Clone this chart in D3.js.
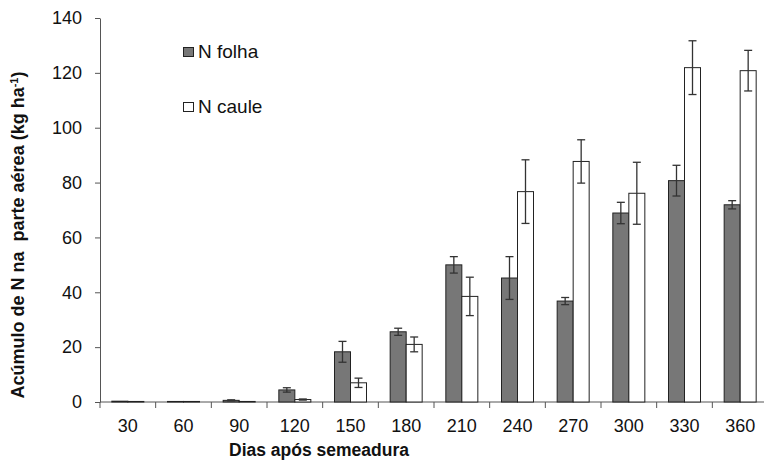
<!DOCTYPE html>
<html>
<head>
<meta charset="utf-8">
<script src="https://cdn.jsdelivr.net/npm/d3@7"></script>
<style>
  body { margin: 0; background: #fff; }
  text { font-family: "Liberation Sans", Arial, sans-serif; }
</style>
</head>
<body>
<script>
'use strict';

// days after sowing
const days = ["30", "60", "90", "120", "150", "180", "210", "240", "270", "300", "330", "360"];
const seriesNames = ["N folha", "N caule"];

// N accumulation (kg/ha) and error bar half-widths
const folha = [0.3, 0.2, 0.6, 4.4, 18.3, 25.6, 50.0, 45.2, 36.8, 68.9, 80.7, 71.9];
const folhaErr = [0, 0, 0.2, 0.8, 3.8, 1.3, 3.0, 7.8, 1.3, 3.9, 5.6, 1.5];
const caule = [0.2, 0.2, 0.2, 0.9, 7.0, 21.0, 38.5, 76.7, 87.7, 76.1, 121.9, 120.8];
const cauleErr = [0, 0, 0, 0.2, 1.7, 2.7, 7.0, 11.6, 7.9, 11.3, 9.8, 7.4];

const yTicks = [0, 20, 40, 60, 80, 100, 120, 140];

const svg = d3.select("body").append("svg")
  .attr("width", 764)
  .attr("height", 462);

const x = d3.scaleBand()
  .domain(days)
  .range([100, 768]);

const xSub = d3.scaleBand()
  .domain(seriesNames)
  .range([0, 32]);

const y = d3.scaleLinear()
  .domain([0, 140])
  .range([402, 18]);

const fills = { "N folha": "#777777", "N caule": "#ffffff" };

// y axis
const yAxis = svg.append("g")
  .attr("transform", "translate(100,0)")
  .call(d3.axisLeft(y).tickValues(yTicks).tickSize(5).tickSizeOuter(0).tickPadding(13));
yAxis.select(".domain").attr("stroke", "#555");
yAxis.selectAll(".tick line").attr("stroke", "#555");
yAxis.selectAll("text").style("font-size", "18px").attr("fill", "#111");

// x axis, ticks on category boundaries
const xAxis = svg.append("g")
  .attr("transform", "translate(0,402)");
xAxis.append("line")
  .attr("x1", 100).attr("x2", 768)
  .attr("stroke", "#555");
xAxis.selectAll(".bnd")
  .data(days)
  .enter().append("line")
  .attr("x1", d => x(d)).attr("x2", d => x(d))
  .attr("y1", 0).attr("y2", 6)
  .attr("stroke", "#555");
xAxis.selectAll(".lbl")
  .data(days)
  .enter().append("text")
  .attr("x", d => x(d) + x.bandwidth() / 2)
  .attr("y", 30)
  .attr("text-anchor", "middle")
  .style("font-size", "18px")
  .attr("fill", "#111")
  .text(d => d);

// bars
const series = [
  { name: "N folha", vals: folha, err: folhaErr },
  { name: "N caule", vals: caule, err: cauleErr }
];
const offset = (x.bandwidth() - 32) / 2;

series.forEach(s => {
  svg.append("g").selectAll("rect")
    .data(days)
    .enter().append("rect")
    .attr("x", d => x(d) + offset + xSub(s.name))
    .attr("width", xSub.bandwidth())
    .attr("y", (d, i) => y(s.vals[i]))
    .attr("height", (d, i) => y(0) - y(s.vals[i]))
    .attr("fill", fills[s.name])
    .attr("stroke", "#222")
    .attr("stroke-width", 1);
});

// error bars
series.forEach(s => {
  const g = svg.append("g").attr("stroke", "#333").attr("stroke-width", 1.3);
  days.forEach((d, i) => {
    if (s.err[i] <= 0) return;
    const cx = x(d) + offset + xSub(s.name) + xSub.bandwidth() / 2;
    const lo = y(s.vals[i] - s.err[i]);
    const hi = y(s.vals[i] + s.err[i]);
    g.append("line").attr("x1", cx).attr("x2", cx).attr("y1", lo).attr("y2", hi);
    g.append("line").attr("x1", cx - 4).attr("x2", cx + 4).attr("y1", lo).attr("y2", lo);
    g.append("line").attr("x1", cx - 4).attr("x2", cx + 4).attr("y1", hi).attr("y2", hi);
  });
});

// legend
const legend = svg.append("g");
seriesNames.forEach((n, i) => {
  legend.append("rect")
    .attr("x", 183.5).attr("y", 47.5 + i * 55)
    .attr("width", 10).attr("height", 9)
    .attr("fill", fills[n])
    .attr("stroke", "#222");
  legend.append("text")
    .attr("x", 198).attr("y", 58 + i * 55)
    .style("font-size", "19px")
    .attr("fill", "#111")
    .text(n);
});

// axis titles
svg.append("text")
  .attr("x", 319).attr("y", 456)
  .attr("text-anchor", "middle")
  .style("font-size", "17.5px")
  .style("font-weight", "bold")
  .attr("fill", "#111")
  .text("Dias após semeadura");

const yTitle = svg.append("text")
  .attr("transform", "translate(24,235)rotate(-90)")
  .attr("text-anchor", "middle")
  .style("font-size", "18px")
  .style("font-weight", "bold")
  .style("white-space", "pre")
  .attr("fill", "#111");
yTitle.append("tspan").text("Acúmulo de N na  parte aérea (kg ha");
yTitle.append("tspan").attr("dy", -6).style("font-size", "11px").text("-1");
yTitle.append("tspan").attr("dy", 6).text(")");
</script>
</body>
</html>
